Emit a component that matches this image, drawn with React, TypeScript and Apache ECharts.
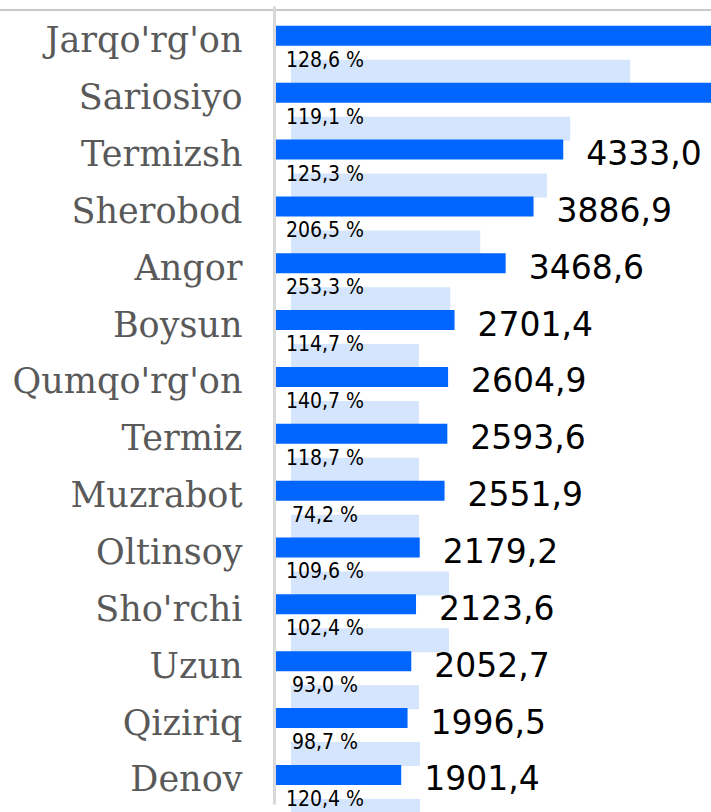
import React, { useEffect, useRef } from "react";
import * as echarts from "echarts";

const categories = [
  "Jarqo'rg'on", "Sariosiyo", "Termizsh", "Sherobod", "Angor", "Boysun", "Qumqo'rg'on",
  "Termiz", "Muzrabot", "Oltinsoy", "Sho'rchi", "Uzun", "Qiziriq", "Denov",
];
// current values (dark bars); first two run past the visible edge
const currentValues = [7150.0, 6820.0, 4333.0, 3886.9, 3468.6, 2701.4, 2604.9, 2593.6, 2551.9, 2179.2, 2123.6, 2052.7, 1996.5, 1901.4];
// comparison values (light bars)
const previousValues = [5090, 4190, 3840, 2840, 2390, 1920, 1920, 1920, 1920, 2370, 2370, 1920, 1935, 1935];
// growth rates shown on the light bars
const growthPercent = [128.6, 119.1, 125.3, 206.5, 253.3, 114.7, 140.7, 118.7, 74.2, 109.6, 102.4, 93.0, 98.7, 120.4];

const X_MAX = 6550;

const fmt = (v: number) => v.toFixed(1).replace(".", ",");

export default function App() {
  const ref = useRef<HTMLDivElement>(null);
  useEffect(() => {
    if (!ref.current) return;
    const chart = echarts.init(ref.current, null, { renderer: "svg" });
    const gridTop = 7.4;
    const gridH = 795.9;
    const lightShift = 36;
    chart.setOption({
      animation: false,
      grid: [
        { left: 274.5, width: 436.5, top: gridTop, height: gridH, containLabel: false },
        { left: 291, width: 436.5, top: gridTop + lightShift, height: gridH, containLabel: false },
      ],
      xAxis: [
        { type: "value", gridIndex: 0, min: 0, max: X_MAX, show: false },
        { type: "value", gridIndex: 1, min: 0, max: X_MAX, show: false },
      ],
      yAxis: [
        {
          type: "category",
          gridIndex: 0,
          data: categories,
          inverse: true,
          z: 5,
          axisLine: { show: true, lineStyle: { color: "#d9d9d9", width: 3 } },
          axisTick: { show: false },
          splitLine: { show: false },
          axisLabel: {
            margin: 32,
            formatter: (v: string) => `{n|${v}}`,
            rich: {
              n: {
                fontFamily: "DejaVu Serif",
                fontSize: 35,
                color: "#595959",
                padding: [9, 0, 0, 0],
              },
            },
          },
        },
        {
          type: "category",
          gridIndex: 1,
          data: categories,
          inverse: true,
          show: false,
        },
      ],
      graphic: [
        {
          type: "line",
          shape: { x1: 0, y1: 10, x2: 711, y2: 10 },
          style: { stroke: "#c8c8c8", lineWidth: 2 },
          z: 0,
        },
      ],
      series: [
        {
          type: "bar",
          name: "previous",
          xAxisIndex: 1,
          yAxisIndex: 1,
          data: previousValues,
          barWidth: 24,
          itemStyle: { color: "#d5e5fd" },
          label: {
            show: true,
            position: [34, 0],
            align: "center",
            verticalAlign: "middle",
            fontFamily: "'DejaVu Sans Condensed', 'DejaVu Sans'",
            fontSize: 21,
            color: "#000",
            formatter: (p: any) => fmt(growthPercent[p.dataIndex]) + " %",
          },
          z: 2,
        },
        {
          type: "bar",
          name: "current",
          xAxisIndex: 0,
          yAxisIndex: 0,
          data: currentValues,
          barWidth: 20,
          itemStyle: { color: "#0066ff" },
          label: {
            show: true,
            position: "right",
            distance: 23,
            offset: [0, 4],
            fontFamily: "DejaVu Sans",
            fontSize: 33,
            color: "#000",
            formatter: (p: any) => (p.value > X_MAX ? "" : fmt(p.value)),
          },
          z: 3,
        },
      ],
    });
    return () => chart.dispose();
  }, []);
  return (
    <div
      ref={ref}
      style={{ position: "fixed", left: 0, top: 0, width: 760, height: 860, background: "#fff" }}
    />
  );
}
